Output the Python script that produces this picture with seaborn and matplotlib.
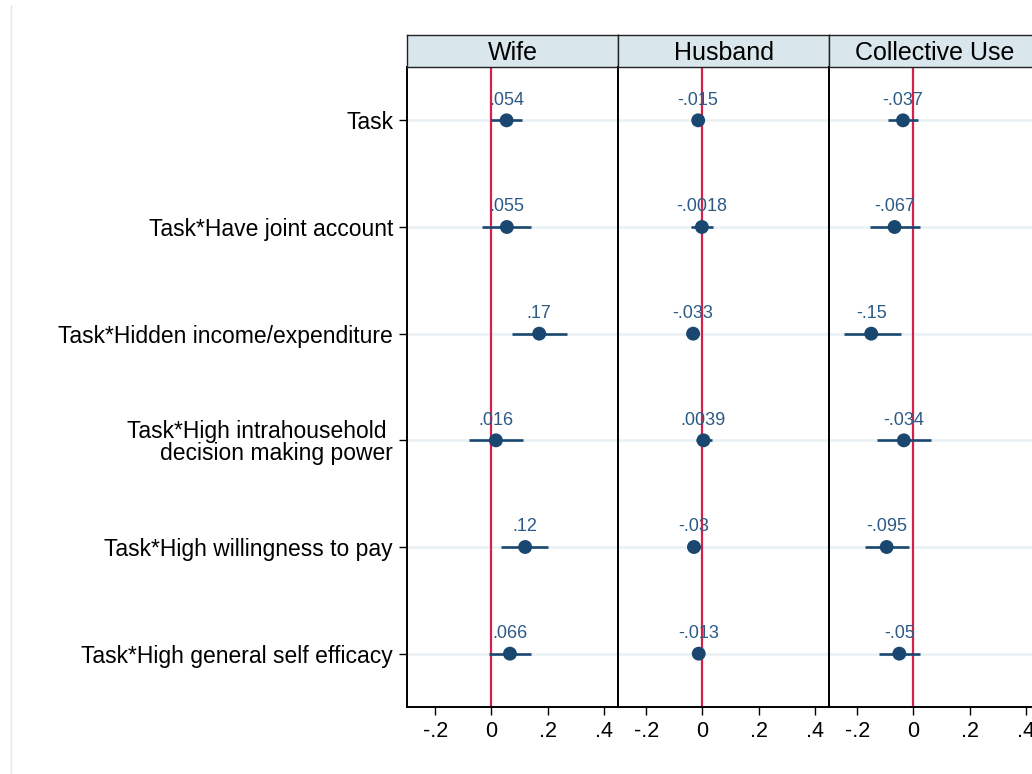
import matplotlib
matplotlib.use("Agg")
import matplotlib.pyplot as plt
from matplotlib.lines import Line2D
import seaborn as sns
import pandas as pd
import numpy as np

# ---- data ----
panels = ["Wife", "Husband", "Collective Use"]
terms = ["Task", "Task*Have joint account", "Task*Hidden income/expenditure",
         "Task*High intrahousehold \ndecision making power",
         "Task*High willingness to pay", "Task*High general self efficacy"]

wife_coef = [0.054, 0.055, 0.17, 0.016, 0.12, 0.066]
wife_lo = [0.000, -0.032, 0.072, -0.081, 0.035, -0.009]
wife_hi = [0.107, 0.141, 0.270, 0.114, 0.202, 0.140]
wife_lab = [".054", ".055", ".17", ".016", ".12", ".066"]

husb_coef = [-0.015, -0.0018, -0.033, 0.0039, -0.03, -0.013]
husb_lo = [-0.027, -0.040, -0.058, -0.022, -0.055, -0.025]
husb_hi = [-0.003, 0.039, -0.012, 0.033, -0.004, -0.001]
husb_lab = ["-.015", "-.0018", "-.033", ".0039", "-.03", "-.013"]

coll_coef = [-0.037, -0.067, -0.15, -0.034, -0.095, -0.05]
coll_lo = [-0.091, -0.156, -0.247, -0.130, -0.173, -0.123]
coll_hi = [0.017, 0.022, -0.043, 0.063, -0.014, 0.025]
coll_lab = ["-.037", "-.067", "-.15", "-.034", "-.095", "-.05"]

xticks = [-0.2, 0.0, 0.2, 0.4]
xticklabels = ["-.2", "0", ".2", ".4"]

frames = []
for p, c, lo, hi, lab in zip(panels,
                             [wife_coef, husb_coef, coll_coef],
                             [wife_lo, husb_lo, coll_lo],
                             [wife_hi, husb_hi, coll_hi],
                             [wife_lab, husb_lab, coll_lab]):
    frames.append(pd.DataFrame({"panel": p, "term": terms, "row": np.arange(1, len(terms) + 1),
                                "coef": c, "lo": lo, "hi": hi, "label": lab}))
df = pd.concat(frames, ignore_index=True)

# ---- style ----
sns.set_style("white")
plt.rcParams["font.family"] = ["Liberation Sans", "DejaVu Sans"]
plt.rcParams["text.color"] = "black"
plt.rcParams["xtick.color"] = "black"
plt.rcParams["ytick.color"] = "black"
plt.rcParams["xtick.labelcolor"] = "black"
plt.rcParams["ytick.labelcolor"] = "black"

W, H = 1032, 774
fig = plt.figure(figsize=(W / 100, H / 100), dpi=100)
fig.patch.set_facecolor("white")

navy = "#1a476f"
labcol = "#2c5a85"
red = "#d6204b"
grid = "#e9f0f3"
strip_bg = "#d9e6eb"

left0 = 407
pw = 211
top_px, bot_px, strip_top = 67, 707, 35

for i, p in enumerate(panels):
    sub = df[df["panel"] == p]
    x0 = left0 + pw * i
    ax = fig.add_axes([x0 / W, (H - bot_px) / H, pw / W, (bot_px - top_px) / H])
    for r in sub["row"]:
        ax.axhline(r, color=grid, lw=1.8, zorder=0)
    ax.axvline(0, color=red, lw=1.6, zorder=1)
    ax.hlines(sub["row"], sub["lo"], sub["hi"], color=navy, lw=1.9, zorder=2)
    sns.scatterplot(data=sub, x="coef", y="row", ax=ax, color=navy, s=100,
                    edgecolor="none", zorder=3, legend=False)
    for _, rr in sub.iterrows():
        ax.annotate(rr["label"], (rr["coef"], rr["row"]), xytext=(0, 14.5),
                    textcoords="offset points", ha="center", va="center",
                    fontsize=13, color=labcol, zorder=4)
    ax.set_xlim(-0.3, 0.45)
    ax.set_ylim(6.5, 0.5)
    ax.set_xticks(xticks)
    ax.set_xticklabels(xticklabels, fontsize=15.5)
    ax.set_xlabel("")
    ax.set_ylabel("")
    ax.tick_params(axis="x", direction="out", length=6, width=1, pad=4, bottom=True)
    if i == 0:
        ax.set_yticks(sub["row"])
        ax.set_yticklabels(sub["term"], fontsize=16.5, multialignment="right",
                           linespacing=0.95)
        ax.tick_params(axis="y", direction="out", length=6, width=1, pad=4, left=True)
    else:
        ax.set_yticks(sub["row"])
        ax.set_yticklabels([])
        ax.tick_params(axis="y", length=0)
    for s in ax.spines.values():
        s.set_visible(True)
        s.set_color("black")
        s.set_linewidth(1.4)
    # strip
    sax = fig.add_axes([x0 / W, (H - top_px) / H, pw / W, (top_px - strip_top) / H])
    sax.set_facecolor(strip_bg)
    sax.set_xticks([])
    sax.set_yticks([])
    for s in sax.spines.values():
        s.set_visible(True)
        s.set_color("#222222")
        s.set_linewidth(1.0)
    sax.text(0.5, 0.45, p, ha="center", va="center", fontsize=18, color="black",
             transform=sax.transAxes)

fig.add_artist(Line2D([11 / W, 11 / W], [0, 1 - 5 / H], color="#dfe9ec", lw=1.0))

fig.savefig("out.png", dpi=100)
